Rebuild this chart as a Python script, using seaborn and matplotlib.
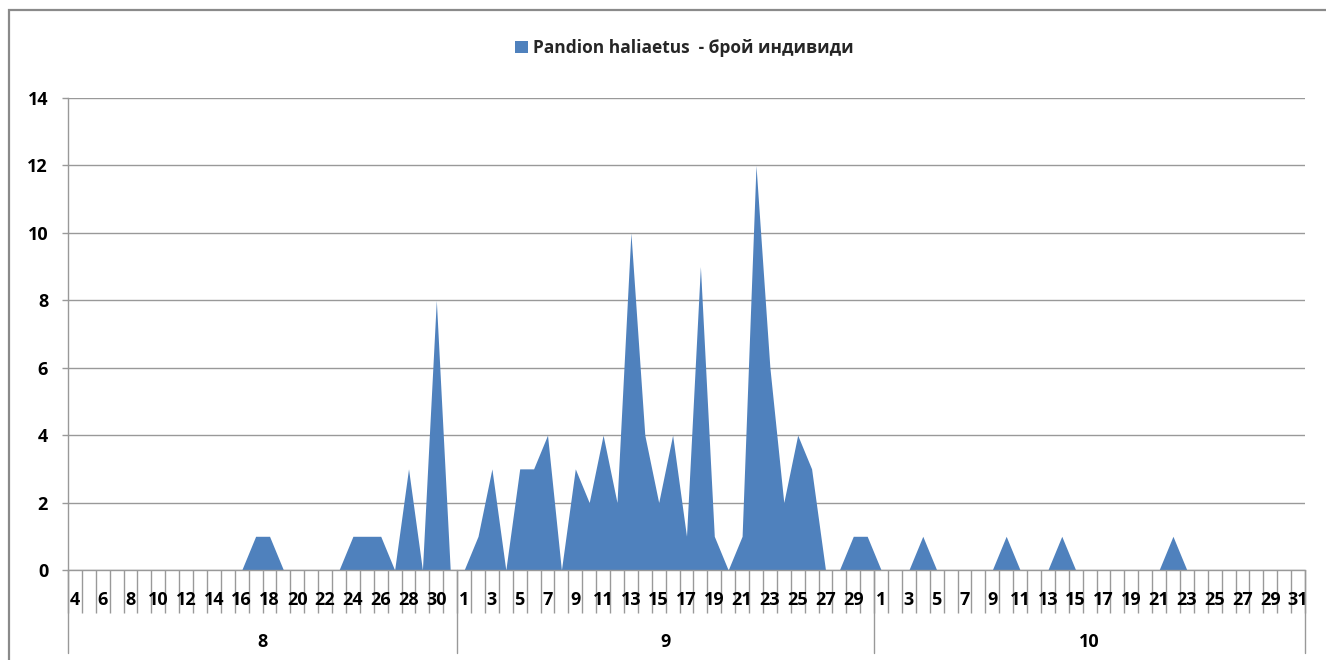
import pandas as pd
import seaborn as sns
import matplotlib.pyplot as plt
import matplotlib.transforms as mtransforms
from matplotlib.patches import Patch, Rectangle

# daily counts, Aug 4 - Oct 31
month_names = ['8', '9', '10']
aug_days = list(range(4, 32))
sep_days = list(range(1, 31))
oct_days = list(range(1, 32))
aug_counts = [0, 0, 0, 0, 0, 0, 0, 0, 0, 0, 0, 0, 0, 1, 1, 0, 0, 0, 0, 0,
              1, 1, 1, 0, 3, 0, 8, 0]
sep_counts = [0, 1, 3, 0, 3, 3, 4, 0, 3, 2, 4, 2, 10, 4, 2, 4, 1, 9, 1, 0,
              1, 12, 6, 2, 4, 3, 0, 0, 1, 1]
oct_counts = [0, 0, 0, 1, 0, 0, 0, 0, 0, 1, 0, 0, 0, 1, 0, 0, 0, 0, 0, 0,
              0, 1, 0, 0, 0, 0, 0, 0, 0, 0, 0]
series_label = 'Pandion haliaetus  - брой индивиди'

frames = []
for m, days, counts in zip(month_names, [aug_days, sep_days, oct_days],
                           [aug_counts, sep_counts, oct_counts]):
    frames.append(pd.DataFrame({'month': m, 'day': days, 'count': counts}))
df = pd.concat(frames, ignore_index=True)
df['pos'] = df.index

sns.set_theme(style='white')
plt.rcParams['font.family'] = ['Open Sans', 'DejaVu Sans']
plt.rcParams['font.weight'] = 'bold'

blue = '#4F81BD'
grey = '#999999'

fig = plt.figure(figsize=(13.26, 6.6), dpi=100)
ax = fig.add_axes([68 / 1326, 90 / 660, 1237 / 1326, 472 / 660])

ax.fill_between(df['pos'], df['count'], 0, color=blue, linewidth=0, label=series_label)

n = len(df)
ax.set_xlim(-0.5, n - 0.5)
ax.set_ylim(0, 14)
ax.set_yticks(range(0, 15, 2))
ax.yaxis.grid(True, color=grey, linewidth=1)
ax.set_axisbelow(True)
sns.despine(ax=ax, top=True, right=True)
for s in ['left', 'bottom']:
    ax.spines[s].set_color(grey)
    ax.spines[s].set_linewidth(1)

ax.tick_params(axis='y', left=True, length=4.3, width=1, color=grey, pad=10,
               labelsize=13, labelcolor='black')

# category boundaries as ticks, day labels between them
ax.set_xticks([i - 0.5 for i in range(n + 1)])
ax.set_xticklabels([])
ax.tick_params(axis='x', which='major', bottom=True, length=31, width=1,
               color=grey, direction='out')
ax.set_xticks(df['pos'][::2], minor=True)
ax.set_xticklabels(df['day'][::2].astype(str), minor=True)
ax.tick_params(axis='x', which='minor', bottom=True, length=0, pad=15,
               labelsize=13, labelcolor='black')
ax.set_xlabel('')
ax.set_ylabel('')

# month group separators and labels
trans = mtransforms.blended_transform_factory(ax.transData, ax.transAxes)
starts = df.groupby('month', sort=False)['pos'].min()
ends = df.groupby('month', sort=False)['pos'].max()
edges = [starts.iloc[0] - 0.5] + [e + 0.5 for e in ends]
for x in edges:
    ax.plot([x, x], [0, -0.176], transform=trans, color=grey, linewidth=1,
            clip_on=False)
for m in month_names:
    ax.text((starts[m] + ends[m]) / 2, -0.152, m, transform=trans,
            ha='center', va='center', fontsize=13, color='black')

handles = [Patch(facecolor=blue, edgecolor='none')]
fig.legend(handles, [series_label], loc='center', bbox_to_anchor=(0.516, 0.927),
           frameon=False, fontsize=12.5, handlelength=0.75, handleheight=0.75,
           handletextpad=0.3)

fig.patches.append(Rectangle((9 / 1326, -0.1), 1.2, 1.0848, transform=fig.transFigure,
                             fill=False, edgecolor='#8a8a8a', linewidth=1.6))

fig.savefig('out.png', dpi=100)
